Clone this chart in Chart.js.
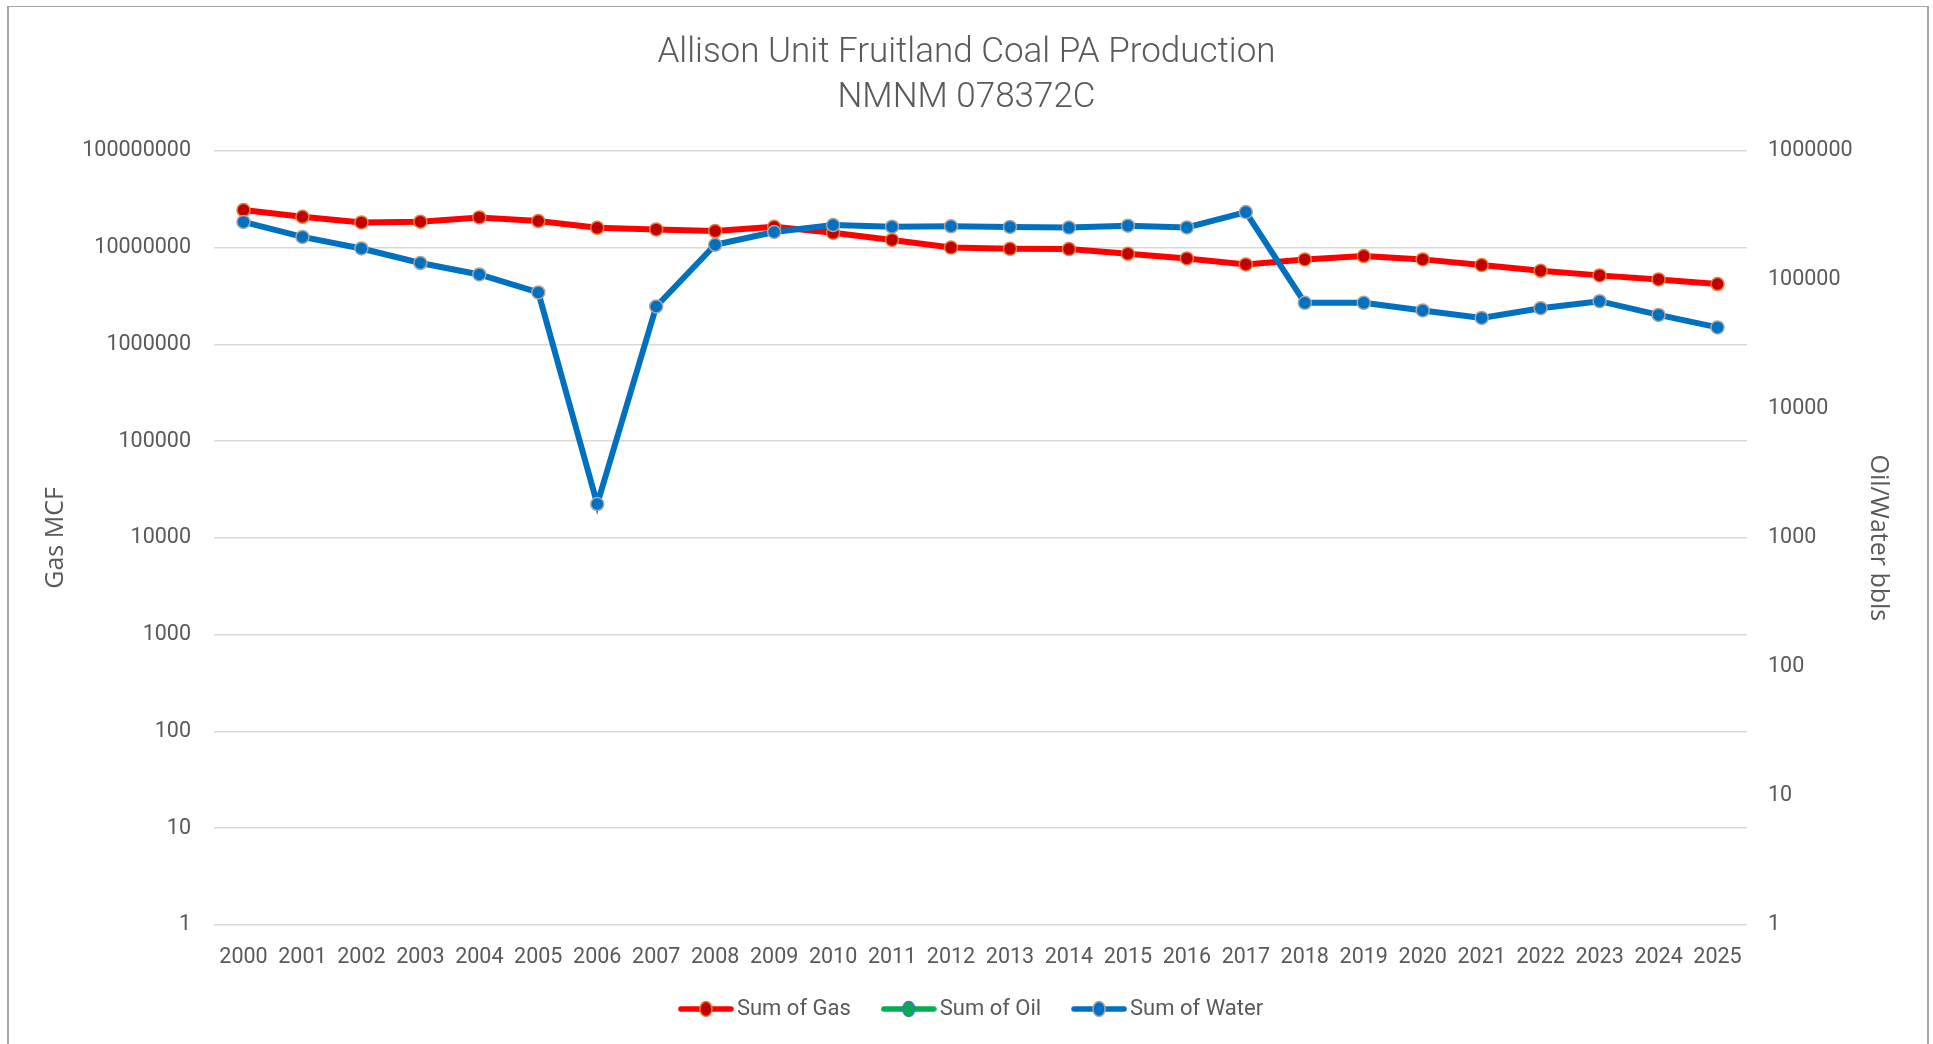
<!DOCTYPE html>
<html>
<head>
<meta charset="utf-8">
<script src="https://cdn.jsdelivr.net/npm/chart.js@4.4.0/dist/chart.umd.min.js"></script>
<style>
html,body{margin:0;padding:0;background:#ffffff;overflow:hidden;}
#wrap{position:relative;width:1933px;height:1044px;overflow:hidden;}
#frame{position:absolute;left:7px;top:6px;width:1922px;height:1100px;box-sizing:border-box;border-top:1px solid #A6A6A6;border-left:2px solid #A6A6A6;border-right:2px solid #A6A6A6;}
canvas{position:absolute;left:0;top:0;}
</style>
</head>
<body>
<div id="wrap"><div id="frame"></div><canvas id="c" width="1933" height="1044"></canvas></div>
<script>
// ---- data ----
const years = ['2000','2001','2002','2003','2004','2005','2006','2007','2008','2009','2010','2011','2012','2013','2014','2015','2016','2017','2018','2019','2020','2021','2022','2023','2024','2025'];
const gasValues = [24400000, 20800000, 18200000, 18500000, 20500000, 18800000, 16000000, 15400000, 14800000, 16400000, 14200000, 12000000, 10000000, 9700000, 9650000, 8630000, 7730000, 6700000, 7550000, 8170000, 7550000, 6590000, 5760000, 5160000, 4690000, 4200000];
const oilValues = [];
const waterValues = [281000, 215000, 175000, 135000, 110000, 79800, 1830, 62200, 187000, 235000, 266000, 258000, 260000, 257000, 254000, 263000, 255000, 335000, 66300, 66300, 57900, 50700, 60300, 68300, 53500, 42800];
const gasTicks = [1, 10, 100, 1000, 10000, 100000, 1000000, 10000000, 100000000];
const oilWaterTicks = [1, 10, 100, 1000, 10000, 100000, 1000000];
const titleLines = ['Allison Unit Fruitland Coal PA Production', 'NMNM 078372C'];
const seriesNames = ['Sum of Gas', 'Sum of Oil', 'Sum of Water'];

// ---- styles ----
const TXT = '#595959';
const tickFont = {family: "'Roboto', 'Open Sans', sans-serif", size: 21.5};
const legendFont = {family: "'Roboto', 'Open Sans', sans-serif", size: 22};
const axisTitleFont = {family: "'Open Sans', sans-serif", size: 25};

function legendIcon(line, fill, stroke) {
  const c = document.createElement('canvas');
  c.width = 56; c.height = 18;
  const g = c.getContext('2d');
  g.strokeStyle = line; g.lineWidth = 5.5; g.lineCap = 'round';
  g.beginPath(); g.moveTo(3, 9); g.lineTo(53, 9); g.stroke();
  g.beginPath(); g.ellipse(28, 9, 6, 7.5, 0, 0, Math.PI * 2);
  g.fillStyle = fill; g.fill();
  g.lineWidth = 1.5; g.strokeStyle = stroke; g.stroke();
  return c;
}
const icons = [
  legendIcon('#FF0000', '#C00000', '#ED7D31'),
  legendIcon('#00B050', '#00B050', '#4472C4'),
  legendIcon('#0070C0', '#0070C0', '#A5A5A5')
];

const legendShift = {
  id: 'legendShift',
  afterLayout(chart) {
    if (chart.legend) { chart.legend.left += 8; chart.legend.right += 8; }
  }
};

new Chart(document.getElementById('c'), {
  type: 'line',
  plugins: [legendShift],
  data: {
    labels: years,
    datasets: [
      {label: seriesNames[0], data: gasValues, yAxisID: 'y', order: 2,
       borderColor: '#FF0000', borderWidth: 6, tension: 0,
       pointRadius: 6.5, pointBackgroundColor: '#C00000', pointBorderColor: '#ED7D31', pointBorderWidth: 1.5},
      {label: seriesNames[1], data: oilValues, yAxisID: 'y2', order: 1,
       borderColor: '#00B050', borderWidth: 6, tension: 0,
       pointRadius: 6.5, pointBackgroundColor: '#00B050', pointBorderColor: '#4472C4', pointBorderWidth: 1.5},
      {label: seriesNames[2], data: waterValues, yAxisID: 'y2', order: 0,
       borderColor: '#0070C0', borderWidth: 6, tension: 0,
       pointRadius: 6.5, pointBackgroundColor: '#0070C0', pointBorderColor: '#A5A5A5', pointBorderWidth: 1.5}
    ]
  },
  options: {
    responsive: false,
    animation: false,
    devicePixelRatio: 1,
    layout: {padding: {left: 0, right: 0, top: 0, bottom: 14}},
    plugins: {
      title: {
        display: true, text: titleLines, color: TXT,
        font: {family: "'Roboto', sans-serif", size: 35, weight: 300, lineHeight: 1.29},
        padding: {top: 31, bottom: 29.5}
      },
      legend: {
        position: 'bottom',
        labels: {
          usePointStyle: true, pointStyleWidth: 40, padding: 27, color: TXT, font: legendFont,
          generateLabels: (chart) => chart.data.datasets.map((ds, i, arr) => ({
            text: i < arr.length - 1 ? ds.label + '  ' : ds.label,
            pointStyle: icons[i], fillStyle: ds.pointBackgroundColor,
            strokeStyle: ds.borderColor, lineWidth: 0, hidden: false, datasetIndex: i, fontColor: TXT
          }))
        }
      },
      tooltip: {enabled: false}
    },
    scales: {
      x: {
        type: 'category', offset: true,
        grid: {display: false}, border: {display: false},
        ticks: {color: TXT, font: tickFont, padding: 12, maxRotation: 0, autoSkip: false},
        afterFit: (s) => { s.height = 46; }
      },
      y: {
        type: 'logarithmic', position: 'left', min: 1, max: 100000000,
        afterBuildTicks: (s) => { s.ticks = gasTicks.map(v => ({value: v})); },
        ticks: {color: TXT, font: tickFont, padding: 23, callback: (v) => String(v)},
        grid: {color: '#D9D9D9', lineWidth: 1.5, drawTicks: false},
        border: {display: false},
        title: {display: true, text: 'Gas MCF', color: TXT, font: axisTitleFont, padding: {top: 41, bottom: 0}},
        afterFit: (s) => { s.width = 214; }
      },
      y2: {
        type: 'logarithmic', position: 'right', min: 1, max: 1000000,
        afterBuildTicks: (s) => { s.ticks = oilWaterTicks.map(v => ({value: v})); },
        ticks: {color: TXT, font: tickFont, padding: 21, callback: (v) => String(v)},
        grid: {display: false, drawTicks: false},
        border: {display: false},
        title: {display: true, text: 'Oil/Water bbls', color: TXT, font: axisTitleFont, padding: {top: 40, bottom: 0}},
        afterFit: (s) => { s.width = 186; }
      }
    }
  }
});
</script>
</body>
</html>
